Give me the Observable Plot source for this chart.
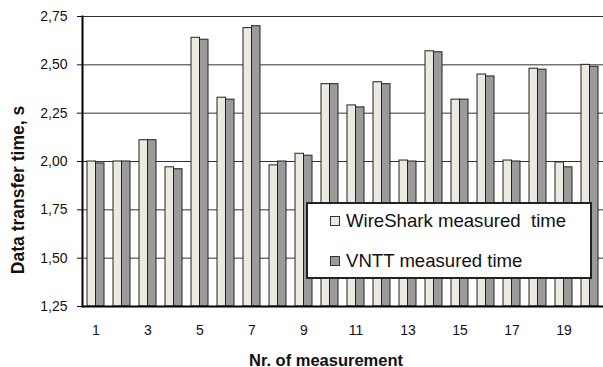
<!DOCTYPE html>
<html>
<head>
<meta charset="utf-8">
<script src="https://cdn.jsdelivr.net/npm/d3@7"></script>
<script src="https://cdn.jsdelivr.net/npm/@observablehq/plot@0.6"></script>
<style>
  body { margin: 0; background: #fff; }
  #wrap { position: relative; width: 603px; height: 367px; overflow: hidden; font-family: "Liberation Sans", Arial, sans-serif; }
  #legend { position: absolute; left: 306px; top: 202px; width: 282px; height: 73px; background: #fff; border: 2px solid #222; }
  .item { position: absolute; left: 22px; font-size: 18.6px; color: #111; display: flex; align-items: center; white-space: pre; }
  .sw { width: 8px; height: 8px; border: 1px solid #333; margin-right: 6px; }
  .title { position: absolute; font-weight: bold; color: #111; white-space: nowrap; }
  #ytitle { left: 18px; top: 190px; font-size: 17.5px; transform: translate(-50%, -50%) rotate(-90deg); }
  #xtitle { left: 326px; top: 360px; font-size: 16.5px; transform: translate(-50%, -50%); }
</style>
</head>
<body>
<div id="wrap"></div>
<script>
const measurements = d3.range(1, 21);
const wireshark = [2.00, 2.00, 2.11, 1.97, 2.64, 2.33, 2.69, 1.98, 2.04, 2.40, 2.29, 2.41, 2.005, 2.57, 2.32, 2.45, 2.005, 2.48, 1.995, 2.50];
const vntt      = [1.99, 2.00, 2.11, 1.96, 2.63, 2.32, 2.70, 2.00, 2.03, 2.40, 2.28, 2.40, 2.00, 2.565, 2.32, 2.44, 2.00, 2.475, 1.97, 2.49];
const yTicks = [1.25, 1.50, 1.75, 2.00, 2.25, 2.50, 2.75];
const xTickLabels = [1, 3, 5, 7, 9, 11, 13, 15, 17, 19];
const seriesNames = ["WireShark measured  time", "VNTT measured time"];
const colors = ["#ECE9E1", "#9B9B9B"];
const yTitle = "Data transfer time, s";
const xTitle = "Nr. of measurement";

const data = measurements.map((m, i) => ({nr: m, w: wireshark[i], v: vntt[i]}));
const fmt = d => d3.format(".2f")(d).replace(".", ",");

const chart = Plot.plot({
  width: 603,
  height: 367,
  marginLeft: 82,
  marginRight: 0,
  marginTop: 16,
  marginBottom: 61,
  style: {fontFamily: "'Liberation Sans', Arial, sans-serif", fontSize: "14px", color: "#111", background: "#fff"},
  x: {type: "band", domain: measurements, paddingInner: 0.35, paddingOuter: 0.175},
  y: {domain: [1.25, 2.75]},
  marks: [
    Plot.ruleY(yTicks.slice(1), {stroke: "#333", strokeWidth: 1}),
    Plot.barY(data, {x: "nr", y1: yTicks[0], y2: "w", fill: colors[0], stroke: "#222", strokeWidth: 1, insetRight: 8.5}),
    Plot.barY(data, {x: "nr", y1: yTicks[0], y2: "v", fill: colors[1], stroke: "#222", strokeWidth: 1, insetLeft: 8.5}),
    Plot.ruleY([yTicks[0]], {stroke: "#000", strokeWidth: 2}),
    Plot.frame({anchor: "left", stroke: "#000", strokeWidth: 2}),
    Plot.axisY({ticks: yTicks, tickFormat: fmt, tickSize: 5, tickPadding: 10, label: null, fontSize: 14}),
    Plot.axisX({ticks: xTickLabels, tickSize: 0, tickPadding: 19, label: null, fontSize: 14})
  ]
});

const wrap = document.getElementById("wrap");
wrap.appendChild(chart);

const yt = document.createElement("div");
yt.id = "ytitle"; yt.className = "title"; yt.textContent = yTitle;
wrap.appendChild(yt);
const xt = document.createElement("div");
xt.id = "xtitle"; xt.className = "title"; xt.textContent = xTitle;
wrap.appendChild(xt);

const legend = document.createElement("div");
legend.id = "legend";
seriesNames.forEach((name, i) => {
  const it = document.createElement("div");
  it.className = "item";
  it.style.top = (i === 0 ? 6 : 46) + "px";
  const sw = document.createElement("span");
  sw.className = "sw";
  sw.style.background = colors[i];
  it.appendChild(sw);
  it.appendChild(document.createTextNode(name));
  legend.appendChild(it);
});
wrap.appendChild(legend);
</script>
</body>
</html>
